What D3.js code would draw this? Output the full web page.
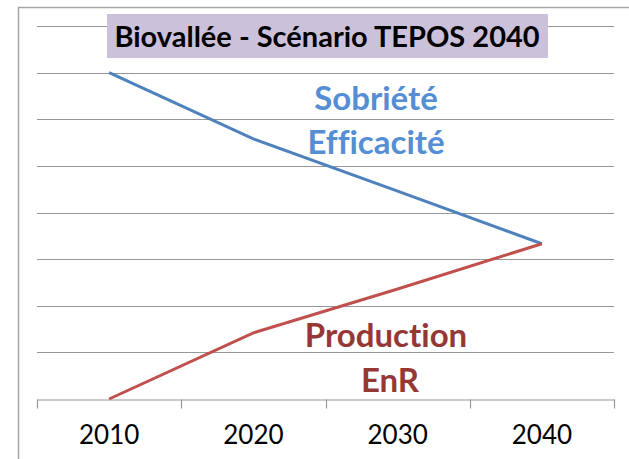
<!DOCTYPE html>
<html>
<head>
<meta charset="utf-8">
<script src="https://cdn.jsdelivr.net/npm/d3@7"></script>
<style>
  body { margin: 0; background: #fff; }
  svg text { font-family: Lato, "Open Sans", sans-serif; font-variant-ligatures: none; }
</style>
</head>
<body>
<svg id="chart"></svg>
<script>
let years = ["2010", "2020", "2030", "2040"];
let sobriete = [7.0, 5.58, 4.46, 3.33];
let production = [0, 1.42, 2.36, 3.33];
let yTicks = [0, 1, 2, 3, 4, 5, 6, 7, 8];
let titleText = "Biovallée - Scénario TEPOS 2040";

function getConfig() {
  let width = 629;
  let height = 459;
  let margin = { top: 26, bottom: 60, left: 37, right: 15 };
  let container = d3.select("#chart")
    .attr("width", width)
    .attr("height", height);
  return { width, height, margin, container };
}

function getScales(config) {
  let { width, height, margin } = config;
  let x = d3.scaleBand()
    .domain(years)
    .range([margin.left, width - margin.right])
    .padding(0);
  let y = d3.scaleLinear()
    .domain([0, 8])
    .range([height - margin.bottom, margin.top]);
  return { x, y };
}

function drawChart(config, scales) {
  let { container, width, height, margin } = config;
  let { x, y } = scales;

  // outer frame
  container.append("rect")
    .attr("x", 18.5).attr("y", 7.5)
    .attr("width", 700).attr("height", 600)
    .attr("fill", "none")
    .attr("stroke", "#a6a6a6")
    .attr("stroke-width", 1.5);

  // gridlines
  container.append("g")
    .selectAll("line")
    .data(yTicks.filter(d => d > 0))
    .enter()
    .append("line")
    .attr("x1", margin.left)
    .attr("x2", width - margin.right)
    .attr("y1", d => Math.round(y(d)) + 0.5)
    .attr("y2", d => Math.round(y(d)) + 0.5)
    .attr("stroke", "#979797")
    .attr("stroke-width", 1.2);

  // x axis
  let xAxis = d3.axisBottom(x).tickSize(0);
  let gx = container.append("g")
    .attr("transform", `translate(0,${Math.round(y(0)) + 0.5})`)
    .call(xAxis);
  gx.select(".domain").attr("stroke", "#979797").attr("stroke-width", 1.2);
  gx.selectAll(".tick text")
    .attr("y", 44)
    .attr("dy", null)
    .attr("font-size", 26)
    .attr("fill", "#000")
    .attr("font-family", "Lato, sans-serif");

  let bounds = years.map(d => x(d)).concat([x(years[years.length - 1]) + x.bandwidth()]);
  gx.selectAll(".sep")
    .data(bounds)
    .enter()
    .append("line")
    .attr("x1", d => Math.round(d) + 0.5)
    .attr("x2", d => Math.round(d) + 0.5)
    .attr("y1", 0)
    .attr("y2", 9)
    .attr("stroke", "#979797")
    .attr("stroke-width", 1.2);

  // lines
  let line = d3.line()
    .x((d, i) => x(years[i]) + x.bandwidth() / 2)
    .y(d => y(d));

  container.append("path")
    .datum(sobriete)
    .attr("d", line)
    .attr("fill", "none")
    .attr("stroke", "#4f81bd")
    .attr("stroke-width", 3);

  container.append("path")
    .datum(production)
    .attr("d", line)
    .attr("fill", "none")
    .attr("stroke", "#c0504d")
    .attr("stroke-width", 3);

  // title
  container.append("rect")
    .attr("x", 107).attr("y", 14)
    .attr("width", 441).attr("height", 44)
    .attr("fill", "#ccc1da");
  container.append("text")
    .attr("x", 327).attr("y", 47)
    .attr("text-anchor", "middle")
    .attr("font-size", 29)
    .attr("font-weight", "bold")
    .attr("fill", "#000")
    .text(titleText);

  // series annotations
  let notes = [
    { t: "Sobriété", x: 376, y: 110, c: "#558ed5" },
    { t: "Efficacité", x: 376, y: 154, c: "#558ed5" },
    { t: "Production", x: 386, y: 347, c: "#953735" },
    { t: "EnR", x: 390, y: 392, c: "#953735" }
  ];
  container.append("g")
    .selectAll("text")
    .data(notes)
    .enter()
    .append("text")
    .attr("x", d => d.x)
    .attr("y", d => d.y)
    .attr("text-anchor", "middle")
    .attr("font-size", 33)
    .attr("font-weight", "bold")
    .attr("fill", d => d.c)
    .text(d => d.t);
}

let config = getConfig();
let scales = getScales(config);
drawChart(config, scales);
</script>
</body>
</html>
